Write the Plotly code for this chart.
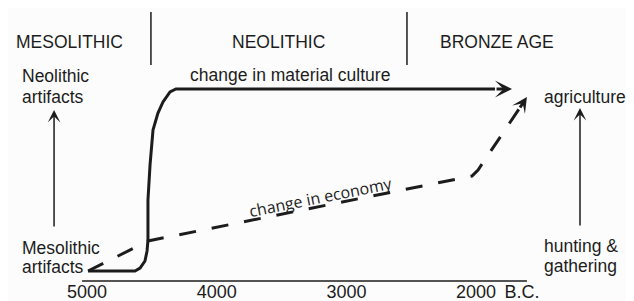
import plotly.graph_objects as go

# ---- data (years B.C., level 0 = Mesolithic / hunting, 100 = Neolithic / agriculture)
tick_years = [5000, 4000, 3000, 2000]
tick_text = ["5000", "4000", "3000", "2000"]
bc_label_year = 1646

material_years = [4992, 4630, 4591, 4553, 4537, 4530, 4530, 4514, 4491, 4453, 4414, 4360, 4314, 1854]
material_level = [0, 0, 1.6, 5.5, 11.0, 17.0, 39.0, 58.2, 77.5, 86.8, 92.9, 98.4, 100, 100]
material_tip = [1723, 100]

economy_years = [4992, 4530, 2032, 1985, 1669]
economy_level = [0, 16.5, 52.2, 55.5, 89.0]
economy_tip = [1608, 95.6]

period_names = ["MESOLITHIC", "NEOLITHIC", "BRONZE AGE"]
period_centers = [5135, 3527, 1839]
period_bounds = [4507, 2533]
axis_span = [5038, 1608]

left_arrow_year = 5254
left_arrow_levels = [23.6, 88.5]
right_arrow_year = 1199
right_arrow_levels = [24.2, 89.6]

INK = "#1c1c1c"
FONT = "Liberation Sans"

fig = go.Figure()

fig.add_trace(go.Scatter(x=material_years, y=material_level, mode="lines",
                         line=dict(color=INK, width=3), hoverinfo="skip"))
fig.add_trace(go.Scatter(x=economy_years, y=economy_level, mode="lines",
                         line=dict(color=INK, width=3, dash="17px,16px"), hoverinfo="skip"))

ann = []
# arrow heads for the two curves
ann.append(dict(x=material_tip[0], y=material_tip[1], ax=material_years[-1], ay=material_level[-1],
                xref="x", yref="y", axref="x", ayref="y", text="", showarrow=True,
                arrowhead=3, arrowsize=0.95, arrowwidth=3, arrowcolor=INK))
ann.append(dict(x=economy_tip[0], y=economy_tip[1], ax=economy_years[-1], ay=economy_level[-1],
                xref="x", yref="y", axref="x", ayref="y", text="", showarrow=True,
                arrowhead=3, arrowsize=0.85, arrowwidth=3, arrowcolor=INK))
# vertical arrows
for xv, lv in [(left_arrow_year, left_arrow_levels), (right_arrow_year, right_arrow_levels)]:
    ann.append(dict(x=xv, y=lv[1], ax=xv, ay=lv[0], xref="x", yref="y", axref="x", ayref="y",
                    text="", showarrow=True, arrowhead=3, arrowsize=1.4, arrowwidth=1.5,
                    arrowcolor=INK))

def label(text, x, y, anchor="center", size=17.5, angle=0, family=FONT):
    ann.append(dict(x=x, y=y, xref="x", yref="y", text=text, showarrow=False,
                    xanchor=anchor, yanchor="middle", textangle=angle,
                    font=dict(family=family, size=size, color=INK)))

for name, c in zip(period_names, period_centers):
    label(name, c, 125.8)

label("change in material culture", 3435, 107.7)
label("Neolithic", 5517, 107.1, "left")
label("artifacts", 5517, 95.6, "left")
label("Mesolithic", 5517, 12.6, "left")
label("artifacts", 5517, 2.2, "left")
label("agriculture", 1492, 95.6, "left")
label("hunting &", 1492, 13.7, "left")
label("gathering", 1492, 2.7, "left")
label("change in economy", 3196, 40.7, angle=-11.3, size=16, family="Open Sans")

shapes = []
for b in period_bounds:
    shapes.append(dict(type="line", xref="x", yref="y", x0=b, x1=b, y0=113.2, y1=142.3,
                       line=dict(color=INK, width=1.5)))
shapes.append(dict(type="line", xref="x", yref="paper", x0=axis_span[0], x1=axis_span[1],
                   y0=0, y1=0, line=dict(color=INK, width=1.5)))

fig.update_layout(
    width=634, height=301,
    margin=dict(l=0, r=0, t=0, b=28, pad=0),
    paper_bgcolor="#fcfcfd", plot_bgcolor="#fcfcfd",
    showlegend=False,
    annotations=ann, shapes=shapes,
    xaxis=dict(range=[5609.1, 720.9], showgrid=False, zeroline=False, showline=False,
               ticks="", tickvals=tick_years + [bc_label_year], ticktext=tick_text + ["B.C."],
               tickfont=dict(family=FONT, size=18, color=INK), fixedrange=True,
               ticklabelstandoff=-2),
    yaxis=dict(range=[-5.49, 144.5], visible=False, fixedrange=True),
)

fig.write_html("out.html")
